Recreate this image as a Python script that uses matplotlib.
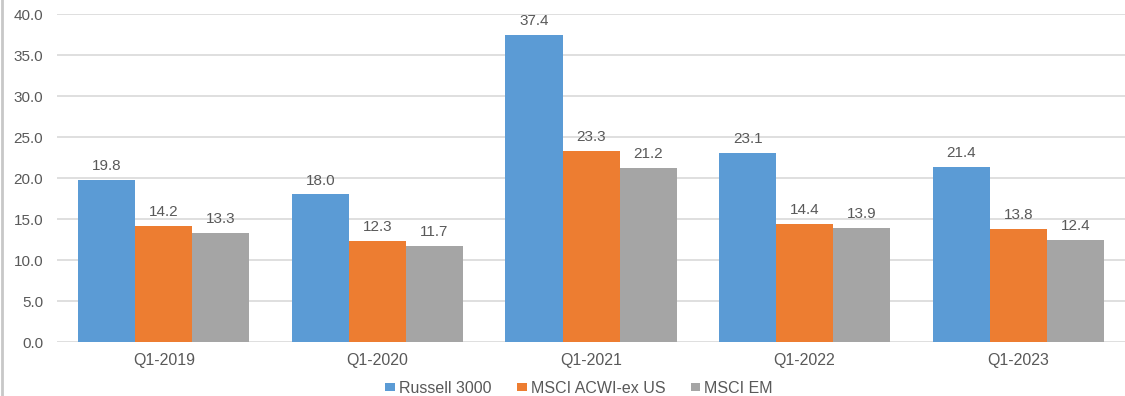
import matplotlib.pyplot as plt
import numpy as np
from matplotlib.lines import Line2D

quarters = ["Q1-2019", "Q1-2020", "Q1-2021", "Q1-2022", "Q1-2023"]
russell_3000 = [19.8, 18.0, 37.4, 23.1, 21.4]
msci_acwi_ex_us = [14.2, 12.3, 23.3, 14.4, 13.8]
msci_em = [13.3, 11.7, 21.2, 13.9, 12.4]

series = [
    ("Russell 3000", russell_3000, "#5B9BD5"),
    ("MSCI ACWI-ex US", msci_acwi_ex_us, "#ED7D31"),
    ("MSCI EM", msci_em, "#A5A5A5"),
]
text_color = "#595959"

plt.rcParams["font.family"] = ["Liberation Sans", "DejaVu Sans"]

fig = plt.figure(figsize=(11.25, 3.96), dpi=100)
ax = fig.add_axes([0.0507, 0.136, 0.9493, 0.8286])

x = np.arange(len(quarters))
width = 0.267
for i, (name, vals, color) in enumerate(series):
    pos = x + (i - 1) * width
    ax.bar(pos, vals, width, color=color, label=name, zorder=2)
    for px, v in zip(pos, vals):
        ax.annotate(f"{v:.1f}", (px, v), xytext=(0, 5), textcoords="offset points",
                    ha="center", va="bottom", fontsize=11, color=text_color)

ax.set_xlim(-0.5, len(quarters) - 0.5)
ax.set_ylim(0, 40)
yt = np.arange(0, 40.1, 5)
ax.set_yticks(yt)
ax.set_yticklabels([f"{t:.1f}" for t in yt])
ax.set_xticks(x)
ax.set_xticklabels(quarters)
ax.tick_params(axis="both", length=0, colors=text_color)
ax.tick_params(axis="y", pad=10, labelsize=11)
ax.tick_params(axis="x", pad=8, labelsize=11.5)
ax.yaxis.grid(True, color="#D9D9D9", linewidth=1.2, zorder=0)
for s in ax.spines.values():
    s.set_visible(False)

ax.legend(loc="center", bbox_to_anchor=(0.489, -0.14), ncol=3,
          frameon=False, fontsize=11.5, handlelength=0.6, handleheight=0.45,
          handletextpad=0.25, columnspacing=1.6, labelcolor=text_color)

# thin frame line down the left edge
fig.add_artist(Line2D([0.002, 0.002], [0, 1], color="#C8C8C8", linewidth=2,
                      transform=fig.transFigure))

fig.savefig("out.png", dpi=100)
